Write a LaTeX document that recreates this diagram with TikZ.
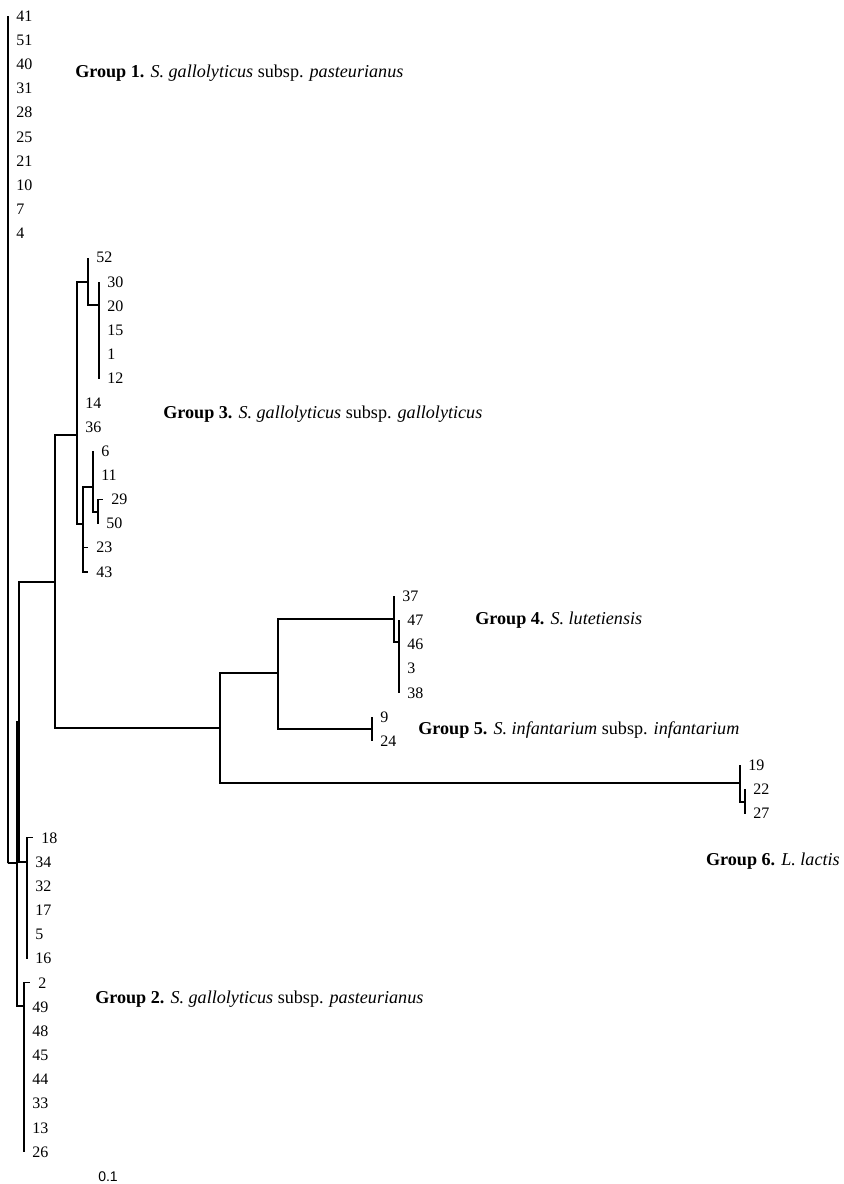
\documentclass[tikz,border=0pt]{standalone}
\usepackage{fontspec}
\setmainfont{Liberation Serif}
\newfontfamily\barfont{Liberation Sans}
\tikzset{
  branch/.style={line width=0.9pt},
  elbow/.style={to path={|- (\tikztotarget)}},
  lab/.style={anchor=west, inner sep=0pt, xshift=6pt, font=\fontsize{12}{14}\selectfont},
  grp/.style={anchor=base west, inner sep=0pt, font=\fontsize{13.6}{16}\selectfont}
}
\newcommand{\leaf}[4]{%
 \coordinate (#1) at ({#2},{16+24.17*#3});%
 \node[lab] (t#1) at (#1) {#4};%
}
\begin{document}
\begin{tikzpicture}[x=0.75pt,y=-0.75pt]
  \useasboundingbox (0,0) rectangle (843,1184);
  \foreach \n/\i in {41/0,51/1,40/2,31/3,28/4,25/5,21/6,10/7,7/8,4/9} {\leaf{l\n}{8}{\i}{\n}}
  \leaf{l52}{88}{10}{52}
  \foreach \n/\i in {30/11,20/12,15/13,1/14,12/15} {\leaf{l\n}{99}{\i}{\n}}
  \leaf{l14}{77}{16}{14}
  \leaf{l36}{77}{17}{36}
  \leaf{l6}{93}{18}{6}
  \leaf{l11}{93}{19}{11}
  \leaf{l29}{103}{20}{29}
  \leaf{l50}{98}{21}{50}
  \leaf{l23}{88}{22}{23}
  \leaf{l43}{88}{23}{43}
  \leaf{l37}{394}{24}{37}
  \foreach \n/\i in {47/25,46/26,3/27,38/28} {\leaf{l\n}{399}{\i}{\n}}
  \leaf{l9}{372}{29}{9}
  \leaf{l24}{372}{30}{24}
  \leaf{l19}{740}{31}{19}
  \leaf{l22}{745}{32}{22}
  \leaf{l27}{745}{33}{27}
  \leaf{l18}{33}{34}{18}
  \foreach \n/\i in {34/35,32/36,17/37,5/38,16/39} {\leaf{l\n}{27}{\i}{\n}}
  \leaf{l2}{30}{40}{2}
  \foreach \n/\i in {49/41,48/42,45/43,44/44,33/45,13/46,26/47} {\leaf{l\n}{24}{\i}{\n}}

  \coordinate (root) at (8,863);
  \coordinate (A) at (17,863);
  \coordinate (B) at (19,722);
  \coordinate (C) at (24,1006);
  \coordinate (P) at (27,862);
  \coordinate (D) at (55,582);
  \coordinate (G) at (77,435);
  \coordinate (K) at (88,282);
  \coordinate (L) at (99,305);
  \coordinate (H) at (83,524);
  \coordinate (I) at (93,487);
  \coordinate (J) at (98,512);
  \coordinate (E) at (220,728);
  \coordinate (F) at (278,673);
  \coordinate (N) at (394,619);
  \coordinate (Q) at (399,642);
  \coordinate (O) at (372,729);
  \coordinate (M) at (740,783);
  \coordinate (S) at (745,802);

  \foreach \n in {41,51,40,31,28,25,21,10,7,4} {\path[branch] (root) edge[elbow] (l\n);}
  \path[branch] (root) edge[elbow] (A);
  \path[branch] (A) edge[elbow] (B) edge[elbow] (C);
  \path[branch] (B) edge[elbow] (D) edge[elbow] (P);
  \foreach \n in {18,34,32,17,5,16} {\path[branch] (P) edge[elbow] (l\n);}
  \foreach \n in {2,49,48,45,44,33,13,26} {\path[branch] (C) edge[elbow] (l\n);}
  \path[branch] (D) edge[elbow] (G) edge[elbow] (E);
  \path[branch] (G) edge[elbow] (K) edge[elbow] (l14) edge[elbow] (l36) edge[elbow] (H);
  \path[branch] (K) edge[elbow] (l52) edge[elbow] (L);
  \foreach \n in {30,20,15,1,12} {\path[branch] (L) edge[elbow] (l\n);}
  \path[branch] (H) edge[elbow] (I) edge[elbow] (l23) edge[elbow] (l43);
  \path[branch] (I) edge[elbow] (l6) edge[elbow] (l11) edge[elbow] (J);
  \path[branch] (J) edge[elbow] (l29) edge[elbow] (l50);
  \path[branch] (E) edge[elbow] (F) edge[elbow] (M);
  \path[branch] (F) edge[elbow] (N) edge[elbow] (O);
  \path[branch] (N) edge[elbow] (l37) edge[elbow] (Q);
  \foreach \n in {47,46,3,38} {\path[branch] (Q) edge[elbow] (l\n);}
  \path[branch] (O) edge[elbow] (l9) edge[elbow] (l24);
  \path[branch] (M) edge[elbow] (l19) edge[elbow] (S);
  \path[branch] (S) edge[elbow] (l22) edge[elbow] (l27);

  \node[grp] (g1) at (75,78) {\textbf{Group 1.} \textit{S. gallolyticus} subsp. \textit{pasteurianus}};
  \node[grp] (g3) at (163,418) {\textbf{Group 3.} \textit{S. gallolyticus} subsp. \textit{gallolyticus}};
  \node[grp] (g4) at (475,624) {\textbf{Group 4.} \textit{S. lutetiensis}};
  \node[grp] (g5) at (418,734) {\textbf{Group 5.} \textit{S. infantarium} subsp. \textit{infantarium}};
  \node[grp, anchor=base east] (g6) at (840,865) {\textbf{Group 6.} \textit{L. lactis}};
  \node[grp] (g2) at (95,1003) {\textbf{Group 2.} \textit{S. gallolyticus} subsp. \textit{pasteurianus}};
  \node[anchor=west, inner sep=0pt, font=\barfont\fontsize{10.5}{12}\selectfont] (bar) at (98,1177) {0.1};
\end{tikzpicture}
\end{document}
